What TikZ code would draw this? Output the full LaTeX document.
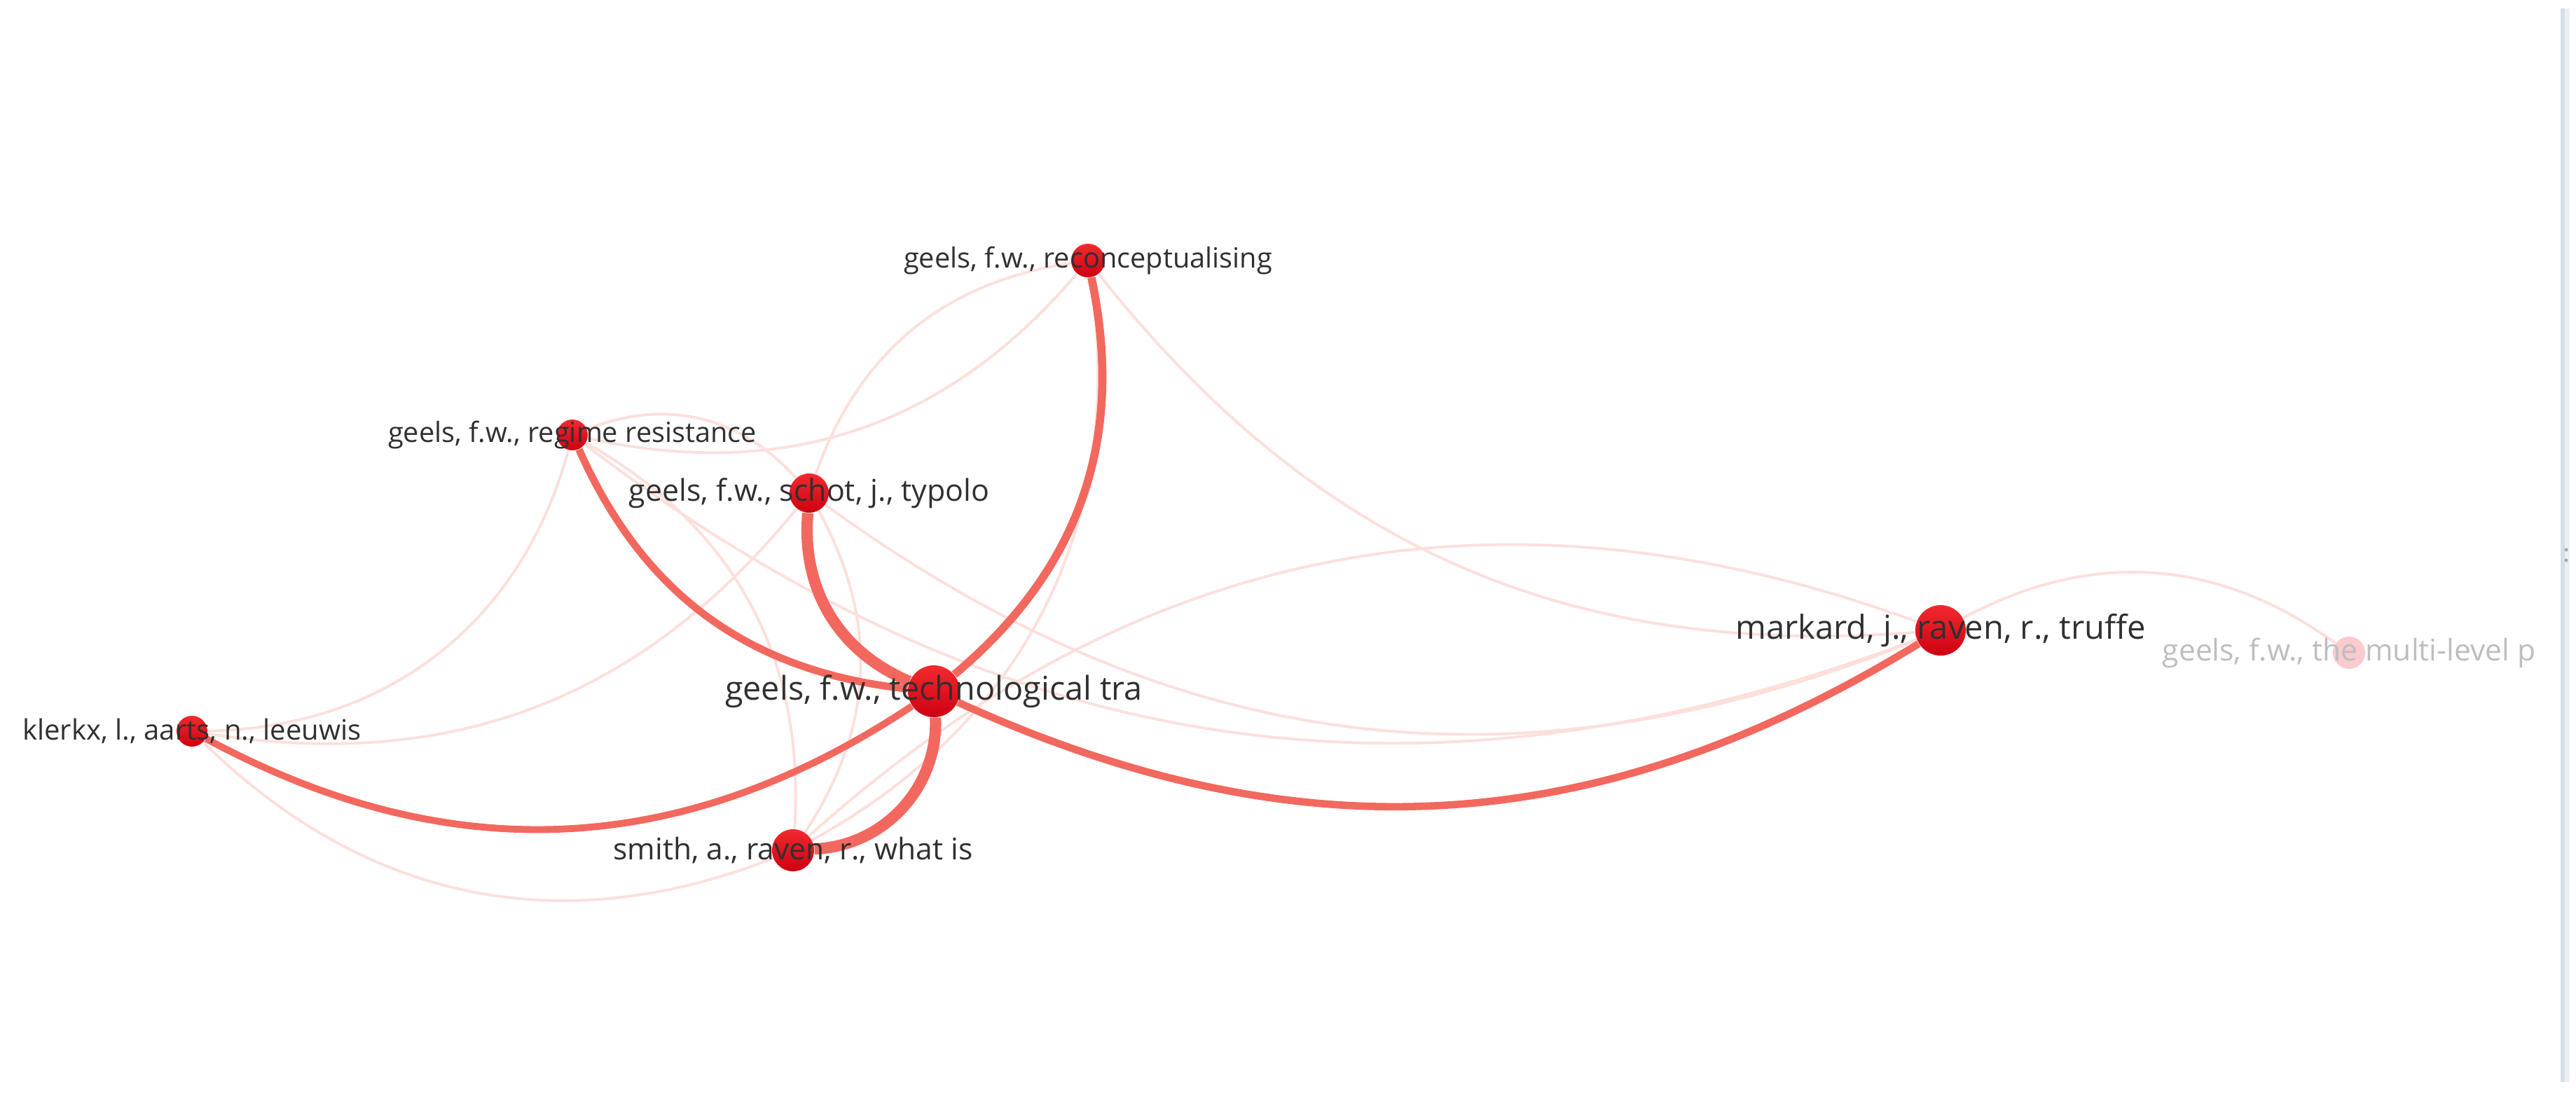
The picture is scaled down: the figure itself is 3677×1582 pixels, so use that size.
\documentclass[tikz,border=0pt]{standalone}
\usepackage{fontspec}
\setmainfont{Open Sans}
\usepackage{xcolor}
\usepackage{tikz}

\definecolor{linkred}{RGB}{243,104,94}
\definecolor{linkpale}{RGB}{253,223,219}
\definecolor{papertop}{RGB}{242,42,46}
\definecolor{paperbot}{RGB}{206,0,18}
\definecolor{papertext}{RGB}{48,48,48}
\definecolor{fadedtext}{RGB}{190,190,190}
\definecolor{fadedpaper}{RGB}{250,202,206}
\definecolor{barleft}{RGB}{214,222,232}
\definecolor{barright}{RGB}{236,240,245}

\pgfdeclarelayer{links}
\pgfsetlayers{links,main}

\begin{document}
\begin{tikzpicture}[x=0.01cm, y=-0.01cm,
  paper/.style={circle, inner sep=0pt, draw=none, top color=papertop, bottom color=paperbot},
  paperlabel/.style={text=papertext, inner sep=0pt},
  link/.style={draw=linkred},
  weaklink/.style={draw=linkpale, line width=1.1pt}]
  \useasboundingbox (0,0) rectangle (3677,1582);

  % Side bar
  \fill[barleft] (3655,12) rectangle (3661,1545);
  \fill[barright] (3661,12) rectangle (3668,1545);
  \fill[gray!70] (3663,785) circle (2.5);
  \fill[gray!70] (3663,800) circle (2.5);

  % Papers
  \node[paper, minimum size=0.74cm] (tech) at (1333,987) {};
  \node[paper, minimum size=0.56cm] (schot) at (1155,704) {};
  \node[paper, minimum size=0.44cm] (regime) at (817,621) {};
  \node[paper, minimum size=0.48cm] (recon) at (1553,372) {};
  \node[paper, minimum size=0.44cm] (klerkx) at (274,1044) {};
  \node[paper, minimum size=0.60cm] (smith) at (1132,1214) {};
  \node[paper, minimum size=0.72cm] (markard) at (2770,900) {};
  \node[circle, inner sep=0pt, fill=fadedpaper, minimum size=0.46cm] (multi) at (3353,932) {};

  % Labels
  \node[paperlabel, font=\fontsize{13.3}{16}\selectfont] at (tech) {geels, f.w., technological tra};
  \node[paperlabel, font=\fontsize{12.2}{15}\selectfont] at (schot) {geels, f.w., schot, j., typolo};
  \node[paperlabel, font=\fontsize{11.3}{14}\selectfont] at (regime) {geels, f.w., regime resistance};
  \node[paperlabel, font=\fontsize{11.3}{14}\selectfont] at (recon) {geels, f.w., reconceptualising};
  \node[paperlabel, font=\fontsize{11.4}{14}\selectfont] at (klerkx) {klerkx, l., aarts, n., leeuwis};
  \node[paperlabel, font=\fontsize{12.1}{15}\selectfont] at (smith) {smith, a., raven, r., what is};
  \node[paperlabel, font=\fontsize{13.4}{16}\selectfont] at (markard) {markard, j., raven, r., truffe};
  \node[paperlabel, text=fadedtext, font=\fontsize{12.1}{15}\selectfont] at (multi) {geels, f.w., the multi-level p};

  \begin{pgfonlayer}{links}
    % Weak links
    \draw[weaklink] (regime) to[bend right=31] (recon);
    \draw[weaklink] (regime) to[bend left=35] (schot);
    \draw[weaklink] (schot) to[bend left=31] (recon);
    \draw[weaklink] (recon) to[bend right=28] (markard);
    \draw[weaklink] (recon) to[bend left=35] (smith);
    \draw[weaklink] (regime) to[bend left=37] (klerkx);
    \draw[weaklink] (schot) to[bend left=30] (klerkx);
    \draw[weaklink] (klerkx) to[bend right=33] (smith);
    \draw[weaklink] (regime) to[bend left=32] (smith);
    \draw[weaklink] (schot) to[bend left=31] (smith);
    \draw[weaklink] (regime) to[bend right=29] (markard);
    \draw[weaklink] (schot) to[bend right=29] (markard);
    \draw[weaklink] (smith) to[bend left=31] (markard);
    \draw[weaklink] (markard) to[bend left=32] (multi);

    % Strong links
    \draw[link, line width=3.3pt] (tech) to[bend right=31] (recon);
    \draw[link, line width=3.0pt] (regime) to[bend right=30] (tech);
    \draw[link, line width=4.6pt] (schot) to[bend right=36] (tech);
    \draw[link, line width=4.6pt] (tech) to[bend left=45] (smith);
    \draw[link, line width=2.8pt] (klerkx) to[bend right=31] (tech);
    \draw[link, line width=3.0pt] (tech) to[bend right=28] (markard);
  \end{pgfonlayer}
\end{tikzpicture}
\end{document}
